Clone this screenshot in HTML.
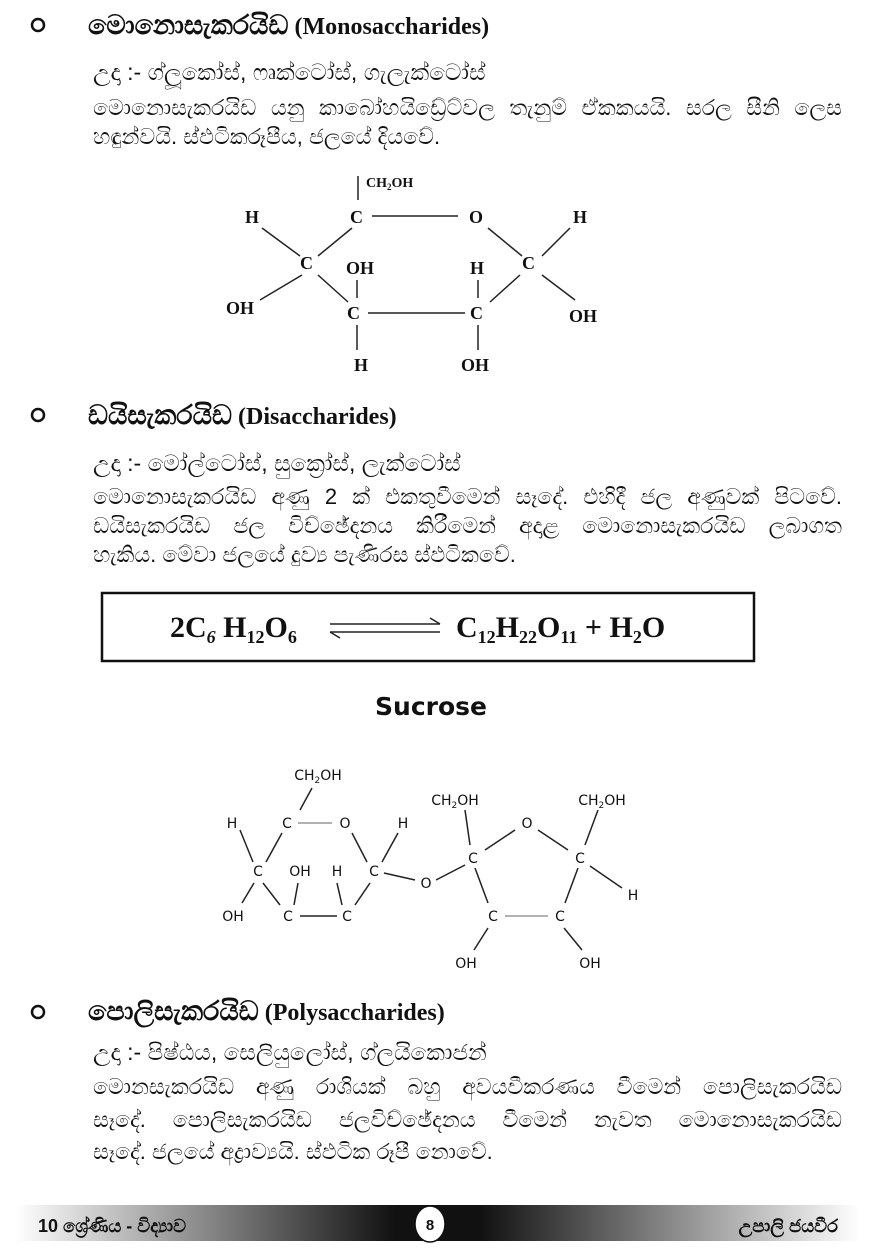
<!DOCTYPE html>
<html><head><meta charset="utf-8"><style>
html,body{margin:0;padding:0;background:#fff;}
svg{display:block;position:absolute;left:0;top:0}
.h{font-family:"Liberation Serif",serif;font-weight:bold;font-size:24px;fill:#111}
.c{font-family:"Liberation Serif",serif;font-weight:bold;font-size:18px;fill:#111}
.s{font-family:"DejaVu Sans",sans-serif;font-size:14px;fill:#111}
line{stroke:#222;stroke-width:1.5}
.p{position:absolute;left:93px;width:749px;font-family:"Liberation Sans",sans-serif;font-size:22px;line-height:29px;color:#111;white-space:nowrap;z-index:2}
.j{text-align:justify;text-align-last:justify;white-space:normal}
.e{position:absolute;left:93px;font-family:"Liberation Sans",sans-serif;font-size:23px;color:#111;z-index:2}
</style></head><body>
<div class="e" style="top:59px">උදා :- ග්ලූකෝස්, ෆෘක්ටෝස්, ගැලැක්ටෝස්</div>
<div class="p j" style="top:93px">මොනොසැකරයිඩ යනු කාබෝහයිඩ්‍රේට්වල තැනුම් ඒකකයයි. සරල සීනි ලෙස</div>
<div class="p" style="top:122px">හඳුන්වයි. ස්ඵටිකරූපීය, ජලයේ දියවේ.</div>
<div class="e" style="top:450px">උදා :- මෝල්ටෝස්, සුක්‍රෝස්, ලැක්ටෝස්</div>
<div class="p j" style="top:482px">මොනොසැකරයිඩ අණු 2 ක් එකතුවීමෙන් සෑදේ. එහිදී ජල අණුවක් පිටවේ.</div>
<div class="p j" style="top:511px">ඩයිසැකරයිඩ ජල විච්ඡේදනය කිරීමෙන් අදාළ මොනොසැකරයිඩ ලබාගත</div>
<div class="p" style="top:540px">හැකිය. මේවා ජලයේ දුව්‍ය පැණිරස ස්ඵටිකවේ.</div>
<div class="e" style="top:1039px">උදා :- පිෂ්ඨය, සෙලියුලෝස්, ග්ලයිකොජන්</div>
<div class="p j" style="top:1072px">මොනසැකරයිඩ අණු රාශියක් බහු අවයවීකරණය වීමෙන් පොලිසැකරයිඩ</div>
<div class="p j" style="top:1105px">සෑදේ. පොලිසැකරයිඩ ජලවිච්ඡේදනය වීමෙන් නැවත මොනොසැකරයිඩ</div>
<div class="p" style="top:1137px">සෑදේ. ජලයේ අද්‍රාව්‍යයි. ස්ඵටික රූපී නොවේ.</div>
<svg width="876" height="1250" viewBox="0 0 876 1250" xmlns="http://www.w3.org/2000/svg">
<defs>
<linearGradient id="g" x1="0" x2="1" y1="0" y2="0">
<stop offset="0" stop-color="#fff"/><stop offset="0.45" stop-color="#111"/><stop offset="0.55" stop-color="#111"/><stop offset="1" stop-color="#fff"/>
</linearGradient>
</defs>
<circle cx="38" cy="25" r="6" fill="none" stroke="#111" stroke-width="2.5"/>
<text class="h" x="88" y="34"><tspan font-size="27">මොනොසැකරයිඩ</tspan> (Monosaccharides)</text>
<g class="c">
<text x="366" y="187" font-size="14">CH<tspan font-size="9" dy="3">2</tspan><tspan dy="-3">OH</tspan></text>
<text x="350" y="223">C</text><text x="469" y="223">O</text>
<text x="245" y="223">H</text><text x="573" y="223">H</text>
<text x="300" y="269">C</text><text x="346" y="274">OH</text><text x="470" y="274">H</text><text x="522" y="269">C</text>
<text x="226" y="314">OH</text><text x="347" y="319">C</text><text x="470" y="319">C</text><text x="569" y="322">OH</text>
<text x="354" y="371">H</text><text x="461" y="371">OH</text>
</g>
<line x1="358" y1="200" x2="358" y2="176"/>
<line x1="372" y1="216" x2="458" y2="216"/>
<line x1="262" y1="228" x2="300" y2="256"/>
<line x1="352" y1="228" x2="318" y2="256"/>
<line x1="488" y1="228" x2="522" y2="256"/>
<line x1="570" y1="228" x2="542" y2="256"/>
<line x1="302" y1="275" x2="260" y2="300"/>
<line x1="318" y1="275" x2="348" y2="302"/>
<line x1="357" y1="280" x2="357" y2="298"/>
<line x1="478" y1="280" x2="478" y2="298"/>
<line x1="520" y1="275" x2="490" y2="302"/>
<line x1="542" y1="275" x2="575" y2="300"/>
<line x1="368" y1="313" x2="465" y2="313"/>
<line x1="357" y1="325" x2="357" y2="350"/>
<line x1="478" y1="325" x2="478" y2="350"/>
<circle cx="38" cy="415" r="6" fill="none" stroke="#111" stroke-width="2.5"/>
<text class="h" x="88" y="424"><tspan font-size="27">ඩයිසැකරයිඩ</tspan> (Disaccharides)</text>
<rect x="102" y="593" width="652" height="68" fill="none" stroke="#111" stroke-width="2.5"/>
<text x="170" y="637" font-family="Liberation Serif,serif" font-weight="bold" font-size="30" fill="#111">2C<tspan font-size="18" font-style="italic" dy="6">6</tspan><tspan dy="-6"> H</tspan><tspan font-size="18" dy="6">12</tspan><tspan dy="-6">O</tspan><tspan font-size="18" dy="6">6</tspan></text>
<line x1="330" y1="624" x2="440" y2="624"/><line x1="330" y1="632" x2="440" y2="632"/>
<line x1="430" y1="618" x2="440" y2="624"/><line x1="330" y1="632" x2="340" y2="638"/>
<text x="456" y="637" font-family="Liberation Serif,serif" font-weight="bold" font-size="30" fill="#111">C<tspan font-size="18" dy="6">12</tspan><tspan dy="-6">H</tspan><tspan font-size="18" dy="6">22</tspan><tspan dy="-6">O</tspan><tspan font-size="18" dy="6">11</tspan><tspan dy="-6"> + H</tspan><tspan font-size="18" dy="6">2</tspan><tspan dy="-6">O</tspan></text>
<text x="431" y="715" text-anchor="middle" font-family="DejaVu Sans,sans-serif" font-weight="bold" font-size="25" fill="#111">Sucrose</text>
<g class="s">
<text x="318" y="780" text-anchor="middle">CH<tspan font-size="9" dy="3">2</tspan><tspan dy="-3">OH</tspan></text>
<text x="232" y="828" text-anchor="middle">H</text><text x="287" y="828" text-anchor="middle">C</text><text x="345" y="828" text-anchor="middle">O</text><text x="403" y="828" text-anchor="middle">H</text>
<text x="258" y="876" text-anchor="middle">C</text><text x="300" y="876" text-anchor="middle">OH</text><text x="337" y="876" text-anchor="middle">H</text><text x="374" y="876" text-anchor="middle">C</text>
<text x="426" y="888" text-anchor="middle">O</text><text x="473" y="863" text-anchor="middle">C</text>
<text x="233" y="921" text-anchor="middle">OH</text><text x="288" y="921" text-anchor="middle">C</text><text x="347" y="921" text-anchor="middle">C</text>
<text x="455" y="805" text-anchor="middle">CH<tspan font-size="9" dy="3">2</tspan><tspan dy="-3">OH</tspan></text>
<text x="527" y="828" text-anchor="middle">O</text>
<text x="602" y="805" text-anchor="middle">CH<tspan font-size="9" dy="3">2</tspan><tspan dy="-3">OH</tspan></text>
<text x="580" y="863" text-anchor="middle">C</text><text x="633" y="900" text-anchor="middle">H</text>
<text x="493" y="921" text-anchor="middle">C</text><text x="560" y="921" text-anchor="middle">C</text>
<text x="466" y="968" text-anchor="middle">OH</text><text x="590" y="968" text-anchor="middle">OH</text>
</g>
<g style="stroke-width:1.2">
<line x1="312" y1="788" x2="300" y2="810"/>
<line x1="298" y1="823" x2="332" y2="823" style="stroke:#999"/>
<line x1="240" y1="830" x2="253" y2="862"/>
<line x1="282" y1="833" x2="266" y2="862"/>
<line x1="352" y1="833" x2="367" y2="862"/>
<line x1="398" y1="833" x2="382" y2="862"/>
<line x1="254" y1="883" x2="242" y2="903"/>
<line x1="263" y1="883" x2="280" y2="905"/>
<line x1="298" y1="883" x2="294" y2="905"/>
<line x1="337" y1="883" x2="342" y2="905"/>
<line x1="370" y1="883" x2="355" y2="905"/>
<line x1="300" y1="916" x2="337" y2="916"/>
<line x1="384" y1="873" x2="415" y2="880"/>
<line x1="436" y1="880" x2="465" y2="865"/>
<line x1="465" y1="810" x2="470" y2="845"/>
<line x1="485" y1="850" x2="515" y2="830"/>
<line x1="538" y1="830" x2="568" y2="850"/>
<line x1="598" y1="810" x2="585" y2="845"/>
<line x1="475" y1="868" x2="488" y2="903"/>
<line x1="578" y1="868" x2="565" y2="903"/>
<line x1="590" y1="866" x2="622" y2="888"/>
<line x1="505" y1="916" x2="548" y2="916" style="stroke:#999"/>
<line x1="488" y1="928" x2="474" y2="950"/>
<line x1="564" y1="928" x2="582" y2="950"/>
</g>
<circle cx="38" cy="1012" r="6" fill="none" stroke="#111" stroke-width="2.5"/>
<text class="h" x="88" y="1020"><tspan font-size="27">පොලිසැකරයිඩ</tspan> (Polysaccharides)</text>
<rect x="15" y="1205" width="845" height="36" fill="url(#g)"/>
<text x="38" y="1232" font-family="Liberation Sans,sans-serif" font-weight="bold" font-size="18" fill="#111">10 ශ්‍රේණිය - විද්‍යාව</text>
<text x="838" y="1232" text-anchor="end" font-family="Liberation Sans,sans-serif" font-weight="bold" font-size="18" fill="#111">උපාලි ජයවීර</text>
<ellipse cx="430" cy="1224" rx="15" ry="18" fill="#fff" stroke="#111" stroke-width="1.5"/>
<text x="430" y="1230" text-anchor="middle" font-family="Liberation Sans,sans-serif" font-weight="bold" font-size="15" fill="#111">8</text>
</svg>
</body></html>
